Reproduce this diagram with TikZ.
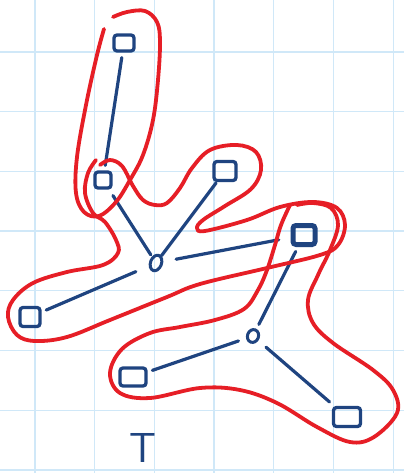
\documentclass[tikz,border=0pt]{standalone}
\usepackage{tikz}
\usetikzlibrary{shapes.geometric}
\definecolor{inkblue}{RGB}{31,68,128}
\definecolor{inkred}{RGB}{230,30,38}
\definecolor{gridblue}{RGB}{208,232,248}

\begin{document}
\begin{tikzpicture}[x=1pt, y=-1pt,
			      gridline/.style={draw=gridblue, line width=1.3pt},
			      vertex/.style={rectangle, draw=inkblue, line width=3.3pt, rounded corners=3pt, minimum width=20pt, minimum height=16pt, inner sep=0pt},
			      hub/.style={ellipse, draw=inkblue, line width=3pt, minimum width=11pt, minimum height=16pt, inner sep=0pt, rotate=-20},
			      link/.style={draw=inkblue, line width=3.2pt, line cap=round, shorten <=5pt, shorten >=5pt},
			      hedge/.style={draw=inkred, line width=3.8pt, line cap=round, line join=round}]
		      \useasboundingbox[fill=white] (0,0) rectangle (404,473);
		      \foreach \i in {0,...,6}
			      \draw[gridline] ({35+59.7*\i},0) -- ({35+59.7*\i},473);
		      \foreach \j in {0,...,7}
			      \draw[gridline] (0,{52+59.7*\j}) -- (404,{52+59.7*\j});
		      \node[vertex] (a) at (124,43) {};
		      \node[vertex, minimum width=16pt] (b) at (103,180) {};
		      \node[vertex, minimum width=22pt, minimum height=19pt] (c) at (225,171) {};
		      \node[vertex, line width=5pt, minimum width=22pt, minimum height=19pt] (d) at (304,235) {};
		      \node[vertex, minimum height=19pt] (e) at (30,317) {};
		      \node[vertex, minimum width=26pt, minimum height=18pt] (f) at (133,377) {};
		      \node[vertex, minimum width=27pt, minimum height=19pt] (g) at (347,417) {};
		      \node[hub] (h1) at (156,263) {};
		      \node[hub, minimum width=11pt, minimum height=13pt] (h2) at (253,336) {};
		      \draw[link] (a) -- (b);
		      \draw[link, shorten <=7pt, shorten >=2pt] (b) -- (h1);
		      \draw[link, shorten <=1pt, shorten >=0pt] (c) -- (h1);
		      \draw[link, shorten <=13pt, shorten >=12pt] (h1) -- (d);
		      \draw[link, shorten <=14pt] (h1) -- (e);
		      \draw[link] (d) -- (h2);
		      \draw[link, shorten <=8pt] (h2) -- (f);
		      \draw[link, shorten <=10pt, shorten >=6pt] (h2) -- (g);
		      \draw[hedge] plot[smooth, tension=0.6] coordinates {(113,17) (127,12) (145,11) (157,22) (160,42) (158,80) (153,120) (143,155) (130,180) (116,202) (99,216) (84,212) (76,193) (77,157) (86,105) (97,55) (104,29)};
		      \draw[hedge] plot[smooth, tension=0.6] coordinates {(100,165) (110,160) (122,166) (133,186) (143,200) (155,205) (167,203) (180,188) (192,168) (210,150) (237,145) (256,152) (261,170) (251,189) (225,206) (203,220) (197,228) (205,231) (247,220) (280,207) (313,202) (337,208) (345,225) (338,245) (320,255) (267,268) (200,284) (167,297) (110,320) (67,337) (35,341) (17,335) (8,317) (13,300) (33,283) (67,272) (103,265) (118,253) (116,240) (105,222) (93,213) (85,193) (88,173) (96,160)};
		      \draw[hedge] plot[smooth, tension=0.6] coordinates {(290,205) (281,225) (275,245) (267,270) (258,290) (244,309) (215,320) (180,327) (150,333) (122,349) (110,373) (120,393) (150,398) (200,388) (240,390) (277,403) (317,427) (350,442) (374,437) (397,413) (393,390) (373,370) (333,343) (313,323) (308,300) (318,275) (330,250) (338,225) (331,208) (313,203) (297,205)};
		      \node[font=\sffamily\fontsize{42}{42}\selectfont, text=inkblue, inner sep=0pt, anchor=base] (tlabel) at (143,462) {T};
	      \end{tikzpicture}
\end{document}
